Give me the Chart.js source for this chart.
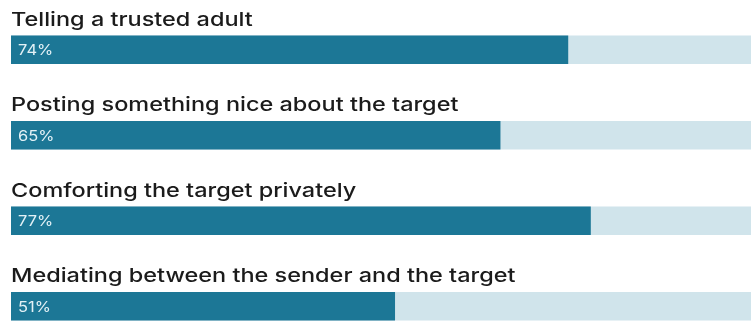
<!DOCTYPE html>
<html>
<head>
<meta charset="utf-8">
<script src="https://cdn.jsdelivr.net/npm/chart.js@4/dist/chart.umd.min.js"></script>
<style>
  html, body { margin: 0; padding: 0; background: #fff; overflow: hidden; }
  #wrap { width: 764px; height: 350px; }
</style>
</head>
<body>
<div id="wrap"><canvas id="chart" width="764" height="350"></canvas></div>
<script>
// Share of respondents per bystander action
const categories = [
  'Telling a trusted adult',
  'Posting something nice about the target',
  'Comforting the target privately',
  'Mediating between the sender and the target',
];
const shares = [74, 65, 77, 51];
const track = [100, 100, 100, 100];

const BAR = '#1c7796';
const TRACK = '#d0e4eb';

// Wide geometric sans is not installed, so stretch Inter a little
function wideText(ctx, text, x, y, stretch) {
  ctx.save();
  ctx.translate(x, y);
  ctx.scale(stretch, 1);
  ctx.fillText(text, 0, 0);
  ctx.restore();
}

// Draws category names above each bar and the percentage inside it
const labelPlugin = {
  id: 'labels',
  afterDatasetsDraw(chart) {
    const { ctx, chartArea } = chart;
    const meta = chart.getDatasetMeta(0);
    ctx.save();
    meta.data.forEach((bar, i) => {
      const top = bar.y - bar.height / 2;
      ctx.fillStyle = '#1b1b1b';
      ctx.font = '500 19px Inter';
      ctx.textBaseline = 'alphabetic';
      ctx.textAlign = 'left';
      wideText(ctx, categories[i], chartArea.left, top - 10, 1.235);
      ctx.fillStyle = '#e3f1f6';
      ctx.font = '15px Inter';
      ctx.textBaseline = 'middle';
      wideText(ctx, shares[i] + '%', chartArea.left + 7, bar.y + 1, 1.1);
    });
    ctx.restore();
  },
};

new Chart(document.getElementById('chart').getContext('2d'), {
  type: 'bar',
  data: {
    labels: categories,
    datasets: [
      { data: shares, backgroundColor: BAR, categoryPercentage: 1, barPercentage: 1 / 3 },
      { data: track, backgroundColor: TRACK, categoryPercentage: 1, barPercentage: 1 / 3 },
    ],
  },
  options: {
    indexAxis: 'y',
    responsive: false,
    animation: false,
    layout: { padding: { left: 11, top: 7, right: 0, bottom: 1 } },
    scales: {
      x: { display: false, min: 0, max: 100, stacked: false },
      y: { display: false, stacked: false },
    },
    datasets: { bar: { grouped: false } },
    plugins: { legend: { display: false }, tooltip: { enabled: false } },
  },
  plugins: [labelPlugin],
});
</script>
</body>
</html>
